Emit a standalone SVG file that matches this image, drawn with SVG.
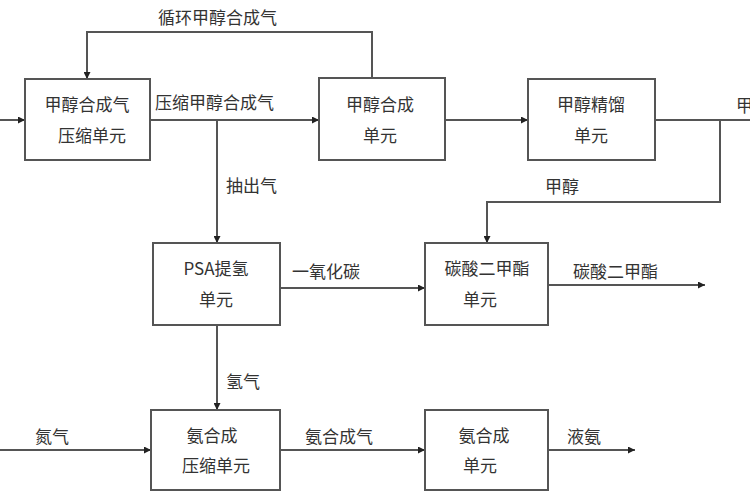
<svg xmlns="http://www.w3.org/2000/svg" width="750" height="500" viewBox="0 0 750 500">
<style>
rect{fill:#fff;stroke:#555;stroke-width:2}
text{font-family:"Noto Sans CJK SC","Liberation Sans",sans-serif;font-size:17px;fill:#333;text-anchor:middle}
.l text{text-anchor:start}
path{fill:none;stroke:#555;stroke-width:2}
</style>
<defs><marker id="a" viewBox="0 0 10 10" refX="10" refY="5" markerWidth="7" markerHeight="7" orient="auto" markerUnits="userSpaceOnUse"><path d="M0,0L10,5L0,10z" style="fill:#222;stroke:none"/></marker></defs>
<rect width="750" height="500" style="fill:#fff;stroke:none"/>
<g id="connectors">
<path d="M0,120H25" marker-end="url(#a)"/>
<path d="M150,120H319" marker-end="url(#a)"/>
<path d="M372,78V32H87V79" marker-end="url(#a)"/>
<path d="M445,120H528" marker-end="url(#a)"/>
<path d="M655,120H750"/>
<path d="M720,120V202H487V243" marker-end="url(#a)"/>
<path d="M217,120V243" marker-end="url(#a)"/>
<path d="M280,288H425" marker-end="url(#a)"/>
<path d="M548,285H705" marker-end="url(#a)"/>
<path d="M217,325V410" marker-end="url(#a)"/>
<path d="M0,450H151" marker-end="url(#a)"/>
<path d="M280,450H425" marker-end="url(#a)"/>
<path d="M548,450H635" marker-end="url(#a)"/>
<g class="l">
<text x="158" y="24">循环甲醇合成气</text>
<text x="155" y="109">压缩甲醇合成气</text>
<text x="736" y="112">甲</text>
<text x="545" y="193">甲醇</text>
<text x="226" y="192">抽出气</text>
<text x="292" y="278">一氧化碳</text>
<text x="573" y="278">碳酸二甲酯</text>
<text x="226" y="388">氢气</text>
<text x="35" y="443">氮气</text>
<text x="305" y="443">氨合成气</text>
<text x="567" y="443">液氨</text>
</g>
</g>
<g id="n1"><rect x="25" y="79" width="125" height="81"/><text x="87" y="111">甲醇合成气</text><text x="92" y="142">压缩单元</text></g>
<g id="n2"><rect x="319" y="78" width="126" height="82"/><text x="380" y="111">甲醇合成</text><text x="380" y="142">单元</text></g>
<g id="n3"><rect x="528" y="79" width="127" height="81"/><text x="591" y="111">甲醇精馏</text><text x="591" y="142">单元</text></g>
<g id="n4"><rect x="153" y="243" width="127" height="82"/><text x="216" y="275">PSA提氢</text><text x="216" y="306">单元</text></g>
<g id="n5"><rect x="425" y="243" width="123" height="82"/><text x="487" y="275">碳酸二甲酯</text><text x="480" y="306">单元</text></g>
<g id="n6"><rect x="151" y="410" width="129" height="80"/><text x="212" y="442">氨合成</text><text x="216" y="472">压缩单元</text></g>
<g id="n7"><rect x="425" y="410" width="123" height="80"/><text x="484" y="442">氨合成</text><text x="480" y="472">单元</text></g>
</svg>
